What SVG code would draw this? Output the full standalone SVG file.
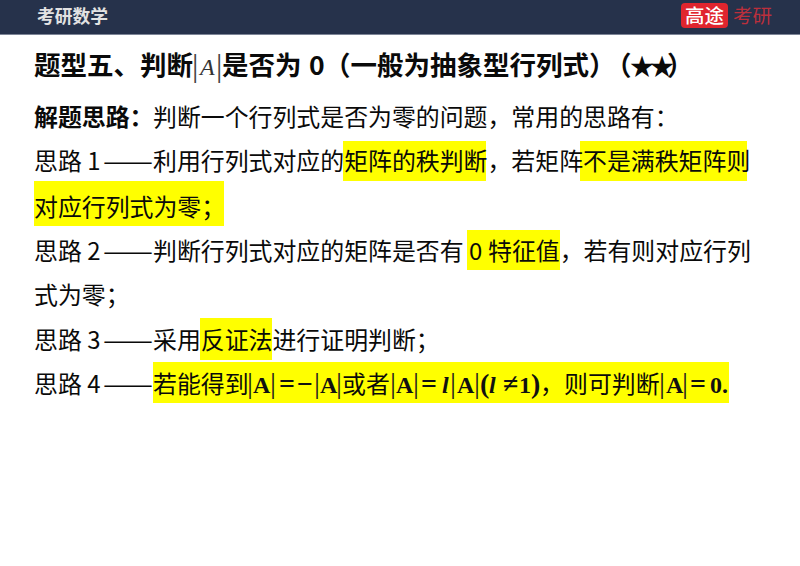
<svg xmlns="http://www.w3.org/2000/svg" width="800" height="566" viewBox="0 0 800 566">
<style>
text{font-family:"Noto Sans CJK SC","Noto Sans",sans-serif;fill:#0a0a0a}
.b{font-size:23.9px}
.s{font-weight:700}
.t{font-size:26.5px;font-weight:700}
.m{font-family:"Liberation Serif",serif;font-size:24px;font-weight:700;fill:#111}
.o{font-family:"Liberation Serif",serif;font-size:28px;font-weight:700;fill:#111}
.i{font-style:italic}
.bar{font-family:"Liberation Serif",serif;font-size:30px;fill:#222}
.tb{font-family:"Liberation Serif",serif;font-size:32px;fill:#444}
.y{fill:#ffff00}
</style>
<rect width="800" height="566" fill="#fff"/>
<g id="header">
<rect width="800" height="34" fill="#26324b"/>
<rect y="34" width="800" height="1" fill="#7d8597"/>
<text x="37" y="23" font-size="17.800" font-weight="700" style="fill:#e2e2e2">考研数学</text>
<rect x="681" y="3" width="47" height="25" rx="4" fill="#e0252e"/>
<text x="685" y="23" font-size="19.500" font-weight="500" style="fill:#fff">高途</text>
<text x="733" y="23" font-size="19.500" style="fill:#bb2f3c">考研</text>
</g>
<g id="highlights">
<rect class="y" x="343" y="141" width="143" height="40"/>
<rect class="y" x="580" y="141" width="167" height="40"/>
<rect class="y" x="34" y="181" width="190" height="45"/>
<rect class="y" x="467" y="230" width="93" height="40"/>
<rect class="y" x="200" y="318" width="72" height="42"/>
<rect class="y" x="153" y="362" width="576" height="41"/>
</g>
<g id="title">
<text class="t" x="34" y="75">题型五、判断</text>
<text class="tb" x="192" y="75.500">|</text>
<text class="m i" x="200" y="75" style="font-weight:400;fill:#333">A</text>
<text class="tb" x="216" y="75.500">|</text>
<text class="t" x="222" y="75">是否为</text>
<text class="t" x="309" y="75">0</text>
<text class="t" x="324" y="75">（一般为抽象型行列式）<tspan x="605">（</tspan><tspan x="630" font-size="24">★</tspan><tspan x="650" font-size="24">★</tspan><tspan x="667">）</tspan></text>
</g>
<g id="body">
<text class="b s" x="34" y="126">解题思路：</text>
<text class="b" x="153" y="126">判断一个行列式是否为零的问题，常用的思路有：</text>

<text class="b" x="34" y="170">思路 1</text>
<text class="b" x="103" y="170" textLength="50" lengthAdjust="spacingAndGlyphs">——</text>
<text class="b" x="153" y="170">利用行列式对应的矩阵的秩判断，若矩阵不是满秩矩阵则</text>
<text class="b" x="34" y="216">对应行列式为零；</text>

<text class="b" x="34" y="260">思路 2</text>
<text class="b" x="103" y="260" textLength="50" lengthAdjust="spacingAndGlyphs">——</text>
<text class="b" x="153" y="260">判断行列式对应的矩阵是否有</text>
<text class="b" x="469" y="260">0</text>
<text class="b" x="488" y="260">特征值，若有则对应行列</text>
<text class="b" x="34" y="304">式为零；</text>

<text class="b" x="34" y="349">思路 3</text>
<text class="b" x="103" y="349" textLength="50" lengthAdjust="spacingAndGlyphs">——</text>
<text class="b" x="153" y="349">采用反证法进行证明判断；</text>

<text class="b" x="34" y="393">思路 4</text>
<text class="b" x="103" y="393" textLength="50" lengthAdjust="spacingAndGlyphs">——</text>
<text class="b" x="153" y="393">若能得到</text>
<text class="bar" x="247" y="393">|</text>
<text class="m" x="253" y="393">A</text>
<text class="bar" x="270" y="393">|</text>
<text class="o" x="279" y="393">=</text>
<text class="o" x="297" y="393">−</text>
<text class="bar" x="314" y="393">|</text>
<text class="m" x="320" y="393">A</text>
<text class="bar" x="336" y="393">|</text>
<text class="b" x="342" y="393">或者</text>
<text class="bar" x="390" y="393">|</text>
<text class="m" x="396" y="393">A</text>
<text class="bar" x="413" y="393">|</text>
<text class="o" x="421" y="393">=</text>
<text class="m i" x="442" y="393">l</text>
<text class="bar" x="450" y="393">|</text>
<text class="m" x="457" y="393">A</text>
<text class="bar" x="474" y="393">|</text>
<text class="o" x="480" y="393">(</text>
<text class="m i" x="489" y="393">l</text>
<text class="o" x="503" y="393">≠</text>
<text class="m" x="519" y="393">1</text>
<text class="o" x="531" y="393">)</text>
<text class="b" x="540" y="393">，</text>
<text class="b" x="564" y="393">则可判断</text>
<text class="bar" x="659" y="393">|</text>
<text class="m" x="666" y="393">A</text>
<text class="bar" x="682" y="393">|</text>
<text class="o" x="690" y="393">=</text>
<text class="m" x="710" y="393">0</text>
<text class="m" x="722" y="393">.</text>
</g>
</svg>
